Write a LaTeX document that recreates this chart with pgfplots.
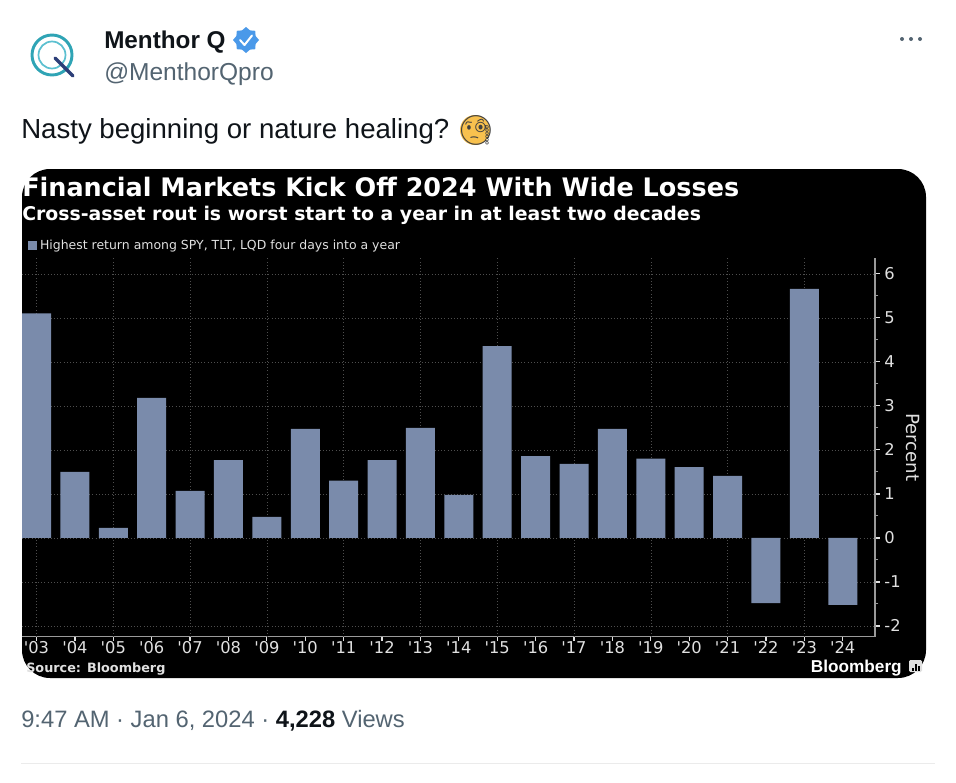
\documentclass[border=0pt]{standalone}
\usepackage{fontspec}
\usepackage{pgfplots}
\pgfplotsset{compat=1.18}
\usetikzlibrary{shapes.geometric}
\setmainfont{Liberation Sans}
\newfontfamily\chartfont{DejaVu Sans}
\newfontfamily\emojifont{Noto Emoji}
\definecolor{barblue}{HTML}{7A8BAB}
\definecolor{twgrey}{HTML}{536471}
\definecolor{twblack}{HTML}{0F1419}
\definecolor{gridgrey}{HTML}{4E4E4E}
\definecolor{axisgrey}{HTML}{9A9A9A}
\definecolor{ticktext}{HTML}{E0E0E0}
\definecolor{emojiyellow}{HTML}{F8C14E}
\definecolor{badge}{HTML}{4A99E9}
\definecolor{logoteal}{HTML}{2FA4B5}
\definecolor{logolight}{HTML}{5CC0D0}
\definecolor{logonavy}{HTML}{2C3E78}

\begin{document}
\begin{tikzpicture}
\begin{scope}[x=0.75pt,y=-0.75pt]
\path[use as bounding box,fill=white] (0,0) rectangle (956,782);

% tweet header
\draw[color=logoteal,line width=2.2pt] (52,55) circle (20);
\draw[color=logolight,line width=1.3pt] (52,55) circle (13.5);
\draw[color=logonavy,line width=2.4pt,line cap=round] (55,58) -- (73,76);
\node[anchor=base west,inner sep=0pt,text=twblack,font=\fontsize{18.2}{20}\selectfont\bfseries] at (104,48) {Menthor Q};
\node[star,star points=8,star point ratio=1.25,fill=badge,minimum size=19.5pt,inner sep=0pt] at (246,40) {};
\draw[white,line width=1.5pt,line cap=round,line join=round] (240,40) -- (244.5,45) -- (252,35.5);
\node[anchor=base west,inner sep=0pt,text=twgrey,font=\fontsize{18.4}{20}\selectfont] at (104,80) {@MenthorQpro};
\node[anchor=base west,inner sep=0pt,text=twblack,font=\fontsize{20.7}{24}\selectfont] at (21,138) {Nasty beginning or nature healing?};
\fill[emojiyellow] (475,130) circle (15);
\node[inner sep=0pt,text=black!75,font=\emojifont\fontsize{22}{24}\selectfont] at (476,130) {^^^^^1f9d0};
\foreach \cx in {902,911,920} \fill[twgrey] (\cx,39) circle (2);

% chart panel
\fill[black,rounded corners=21pt] (22,169) rectangle (926,678);
\node[anchor=base west,inner sep=0pt,text=white,font=\chartfont\fontsize{19.1}{22}\selectfont\bfseries] at (22,196) {Financial Markets Kick Off 2024 With Wide Losses};
\node[anchor=base west,inner sep=0pt,text=white,font=\chartfont\fontsize{14.15}{16}\selectfont\bfseries] at (22,220) {Cross-asset rout is worst start to a year in at least two decades};
\end{scope}

\begin{axis}[
    at={(16.5pt,-477.375pt)},
    anchor=south west,
    scale only axis,
    width=639.75pt,
    height=283.9pt,
    xmin=-0.378, xmax=21.84,
    ymin=-2.24, ymax=6.36,
    axis x line*=bottom,
    axis y line*=right,
    axis line style={color=axisgrey,line width=1.3pt,-},
    xtick={0,1,...,21},
    xticklabels={'03,'04,'05,'06,'07,'08,'09,'10,'11,'12,'13,'14,'15,'16,'17,'18,'19,'20,'21,'22,'23,'24},
    extra x ticks={0,2,...,20},
    extra x tick labels={},
    extra x tick style={grid=major,tick style={draw=none}},
    ytick={-2,-1,0,1,2,3,4,5,6},
    yticklabels={-2,-1,0,1,2,3,4,5,6},
    minor y tick num=1,
    ymajorgrids,
    grid style={color=gridgrey,dotted,line width=0.4pt},
    tick style={color=axisgrey,line width=0.7pt},
    major tick style={color=ticktext,line width=0.9pt},
    major tick length=3.5pt,
    minor tick length=2.5pt,
    tick align=outside,
    xticklabel style={text=ticktext,font=\chartfont\fontsize{12.2}{13}\selectfont,yshift=3.5pt},
    yticklabel style={text=ticktext,font=\chartfont\fontsize{12.2}{13}\selectfont,xshift=0pt},
    ylabel={Percent},
    ylabel style={text=ticktext,font=\chartfont\fontsize{13.6}{15}\selectfont,rotate=180,anchor=center,at={(axis description cs:1.045,0.5)}},
    legend style={draw=none,fill=none,text=ticktext,font=\chartfont\fontsize{9.35}{11}\selectfont,
        at={(0.007,1.0)},anchor=south west,yshift=3pt,inner sep=0pt,
        legend cell align=left},
    legend image code/.code={\fill[barblue] (0cm,-0.12cm) rectangle (0.24cm,0.12cm);},
    ]
\addplot[ybar,bar width=21.75pt,fill=barblue,draw=none] coordinates {
    (0,5.10) (1,1.50) (2,0.23) (3,3.18) (4,1.07) (5,1.77) (6,0.48) (7,2.48)
    (8,1.30) (9,1.77) (10,2.50) (11,0.98) (12,4.36) (13,1.86) (14,1.68) (15,2.48)
    (16,1.80) (17,1.61) (18,1.41) (19,-1.48) (20,5.66) (21,-1.52)};
\addlegendentry{Highest return among SPY, TLT, LQD four days into a year}
\end{axis}

\begin{scope}[x=0.75pt,y=-0.75pt]
\node[anchor=base west,inner sep=0pt,text=ticktext,font=\chartfont\fontsize{9.6}{11}\selectfont\bfseries] at (26,672) {Source: Bloomberg};
\node[anchor=base east,inner sep=0pt,text=white,font=\fontsize{12.9}{16}\selectfont\bfseries] at (902,672) {Bloomberg};
\fill[ticktext,rounded corners=1pt] (909,660) rectangle (922,672);
\foreach \bx/\bh in {912/3,915/7,918/5} \fill[black] (\bx,671) rectangle ++(1.5,-\bh);

% tweet footer
\node[anchor=base west,inner sep=0pt,text=twgrey,font=\fontsize{17.8}{20}\selectfont] at (21,727) {9:47 AM · Jan 6, 2024 · \textcolor{twblack}{\textbf{4,228}} Views};
\draw[color=black!8,line width=0.7pt] (21,763) -- (935,763);
\end{scope}
\end{tikzpicture}
\end{document}
